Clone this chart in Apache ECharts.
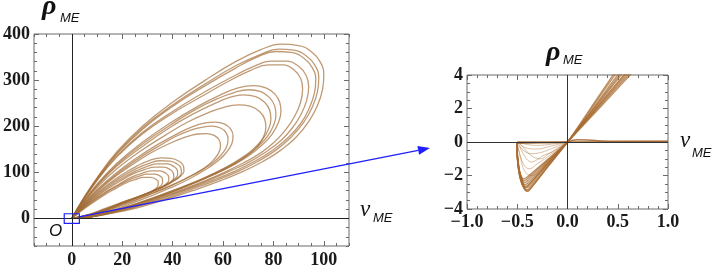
<!DOCTYPE html>
<html><head><meta charset="utf-8">
<script src="https://cdn.jsdelivr.net/npm/echarts@6/dist/echarts.min.js"></script>
<style>html,body{margin:0;padding:0;background:#fff}#c{width:715px;height:273px}</style>
</head><body><div id="c"></div>
<script>
// ---------- tick values ----------
const leftXTicks = [0, 20, 40, 60, 80, 100];
const leftXMinor = [-15,-10,-5,5,10,15,25,30,35,45,50,55,65,70,75,85,90,95,105,110];
const leftYTicks = [0, 100, 200, 300, 400];
const leftYMinor = [-60,-40,-20,20,40,60,80,120,140,160,180,220,240,260,280,320,340,360,380];
const rightXTicks = [-1, -0.5, 0, 0.5, 1];
const rightXMinor = [-0.9,-0.8,-0.7,-0.6,-0.4,-0.3,-0.2,-0.1,0.1,0.2,0.3,0.4,0.6,0.7,0.8,0.9];
const rightYTicks = [-4, -2, 0, 2, 4];
const rightYMinor = [-3.5,-3,-2.5,-1.5,-1,-0.5,0.5,1,1.5,2.5,3,3.5];

// ---------- left panel: large loops ----------
const L1 = [[0,0],[4,38],[10,88],[18,145],[28,200],[40,252],[53,300],[65,340],[75,366],[83,378],[90,375],[95,362],[98.5,340],[100,312],[99.5,280],[97.5,245],[94,210],[89,176],[83,148],[76,124],[68,102],[59,82],[49,62],[38,42],[26,23],[14,9],[6,2],[0,0]];
const L2 = [[0,0],[4,37],[10,86],[18,142],[28,196],[40,246],[53,292],[65,331],[75,356],[82,367],[88,365],[93,353],[96.5,332],[98,305],[97.5,275],[95.5,242],[92,208],[87,176],[81,148],[74,124],[66,102],[57,82],[47,62],[37,43],[25,24],[14,9],[6,2],[0,0]];
const L3 = [[0,0],[4,36],[10,85],[18,140],[28,193],[40,243],[53,288],[65,326],[74,351],[81,362],[87,360],[92,348],[95.3,328],[96.8,302],[96.3,272],[94.3,240],[91,207],[86,176],[80,149],[73,125],[65,103],[56,83],[46,63],[36,44],[25,25],[14,10],[6,2],[0,0]];
const L4 = [[0,0],[4,35],[10,83],[18,136],[28,186],[40,232],[52,272],[63,305],[72,329],[79,341],[85,341],[90,330],[93,310],[94,285],[93.2,256],[91,226],[87.5,196],[83,169],[77,144],[70,121],[62,101],[54,82],[45,63],[35,44],[24,25],[13,10],[6,2],[0,0]];
const L5 = [[0,0],[4,35],[10,82],[18,134],[28,183],[40,228],[52,266],[62,297],[71,321],[78,333],[84,333],[88,323],[90.8,304],[91.6,280],[90.8,252],[88.5,222],[85,193],[80.5,166],[75,142],[68,120],[61,101],[53,82],[44,63],[34,44],[24,26],[13,10],[6,2],[0,0]];
const L6 = [[0,0],[4,32],[10,74],[18,120],[28,165],[39,207],[50,243],[59,268],[66,283],[72,288],[77,283],[80.5,270],[82.5,252],[83,232],[82,208],[79.5,183],[75.5,159],[70.5,137],[64.5,117],[57.5,98],[50,80],[42,62],[33,44],[23,26],[13,10],[6,2],[0,0]];
const L7 = [[0,0],[4,31],[10,72],[18,117],[28,161],[39,202],[49,236],[58,260],[65,274],[70,279],[75,275],[78.5,262],[80.5,244],[81,224],[80,201],[77.5,177],[73.5,154],[68.5,133],[62.5,114],[56,96],[49,79],[41,62],[32,44],[23,27],[13,11],[6,2],[0,0]];
const L8 = [[0,0],[4,30],[10,70],[18,114],[28,156],[38,194],[48,226],[57,250],[63,263],[68,268],[73,264],[76.5,252],[78.5,235],[79,215],[78,193],[75.5,170],[71.5,148],[66.5,128],[61,110],[54.5,93],[48,77],[40,60],[32,44],[23,27],[13,11],[6,2],[0,0]];
const L9 = [[0,0],[4,29],[10,67],[18,108],[27,145],[37,180],[46,209],[54,229],[61,242],[66,246],[71,243],[74.5,232],[76.5,216],[77,197],[76,176],[73.5,155],[69.5,136],[65,119],[59.5,103],[53.5,88],[47,73],[40,58],[32,42],[23,26],[13,11],[6,2],[0,0]];
const L10 = [[0,0],[4,27],[10,62],[18,100],[26,132],[34,160],[42,184],[48,199],[53,207],[57,209],[60.5,205],[63,194],[64,179],[63.5,162],[61.5,144],[58.5,127],[54.5,111],[50,96],[45,81],[39,66],[32,50],[24,33],[15,16],[7,4],[0,0]];
const L11 = [[0,0],[4,26],[10,60],[18,97],[26,128],[34,155],[41,177],[47,191],[52,198],[55.5,200],[59,196],[61.2,186],[62,172],[61.5,156],[59.5,139],[56.5,123],[52.5,108],[48,94],[43,80],[37,65],[30,50],[23,34],[14,17],[7,5],[0,0]];
const L12 = [[0,0],[4,25],[10,57],[17,90],[25,120],[32,144],[39,163],[45,176],[50,183],[53.5,184],[56.5,180],[58.5,170],[59,157],[58.3,142],[56.3,127],[53.3,112],[49.5,99],[45,86],[40,73],[34,59],[28,46],[21,32],[13,16],[6,5],[0,0]];
// ---------- left panel: small loops ----------
const S1 = [[0,0],[3,18],[8,45],[14,72],[20,95],[26,114],[31,126],[35.5,131],[39.5,130],[42.5,124],[44.3,114],[44.5,103],[43.2,92],[40.8,82],[37.5,72],[33.5,62],[29,52],[23,39],[16,24],[8,9],[0,0]];
const S2 = [[0,0],[3,17],[8,43],[14,69],[20,91],[26,109],[31,120],[35,125],[39,124],[41.8,118],[43.3,109],[43.5,99],[42.3,89],[40,80],[36.8,70],[33,61],[28.5,51],[22.5,38],[15.5,23],[8,8],[0,0]];
const S3 = [[0,0],[3,17],[8,41],[14,66],[20,87],[25.5,103],[30,113],[34,118],[38,118],[40.6,112],[41.9,104],[42,95],[40.9,86],[38.6,77],[35.6,68],[32,59],[27.5,49],[22,37],[15,22],[8,8],[0,0]];
const S4 = [[0,0],[3,16],[8,39],[14,63],[19.5,82],[24.5,97],[29,106],[33,111],[36.5,111],[39,106],[40.3,98],[40.5,89],[39.5,80],[37.3,72],[34.5,64],[31,56],[27,47],[21.5,36],[15,22],[7.5,8],[0,0]];
const S5 = [[0,0],[3,15],[8,37],[14,59],[19,75],[23.5,89],[28,98],[32,103],[35,103],[37.3,98],[38.4,91],[38.5,83],[37.5,75],[35.5,67],[32.8,60],[29.5,53],[25.5,45],[20.5,35],[14.5,22],[7,8],[0,0]];
const S6 = [[0,0],[3,14],[8,35],[13,54],[18,70],[22.5,83],[26.5,91],[30,96],[33,96],[35,92],[36,85],[36,77],[35,69],[33,62],[30.5,55],[27.5,49],[24,42],[19.5,33],[14,21],[7,8],[0,0]];
const S7 = [[0,0],[3,13],[8,33],[13,51],[17.5,65],[21.5,77],[25,84],[28.5,89],[31.3,89],[33.3,85],[34.3,79],[34.2,71],[33.2,64],[31.3,58],[29,52],[26,46],[22.5,40],[18.5,32],[13,21],[6.5,8],[0,0]];

// ---------- right panel (zoom near origin) ----------
const R1 = [[-0.5,0],[-0.5,-0.7],[-0.49,-1.5],[-0.47,-2.2],[-0.44,-2.7],[-0.405,-2.95],[-0.38,-2.88],[-0.19,-1.44],[0,0],[0.3,2.25],[0.6,4.5]];
const R2 = [[-0.5,0],[-0.5,-0.7],[-0.49,-1.5],[-0.47,-2.15],[-0.44,-2.62],[-0.41,-2.85],[-0.385,-2.78],[-0.19,-1.38],[0,0],[0.3,2.15],[0.63,4.5]];
const R3 = [[-0.5,-0.02],[-0.5,-0.7],[-0.49,-1.45],[-0.47,-2.1],[-0.445,-2.55],[-0.415,-2.75],[-0.39,-2.68],[-0.2,-1.36],[0,0],[0.3,2.05],[0.66,4.5]];
const R4 = [[-0.5,0],[-0.5,-0.65],[-0.49,-1.4],[-0.47,-2.0],[-0.445,-2.45],[-0.42,-2.65],[-0.395,-2.58],[-0.2,-1.3],[0,0],[0.3,1.98],[0.68,4.5]];
const R5 = [[-0.5,-0.03],[-0.5,-0.6],[-0.49,-1.3],[-0.475,-1.9],[-0.45,-2.35],[-0.425,-2.55],[-0.4,-2.48],[-0.2,-1.24],[0,0],[0.3,1.9],[0.7,4.5]];
const R6 = [[-0.5,0],[-0.5,-0.6],[-0.49,-1.3],[-0.475,-1.85],[-0.45,-2.25],[-0.43,-2.42],[-0.405,-2.36],[-0.2,-1.16],[0,0],[0.3,2.4],[0.56,4.5]];
const R7 = [[-0.5,-0.01],[-0.5,-0.55],[-0.49,-1.2],[-0.475,-1.75],[-0.455,-2.15],[-0.435,-2.3],[-0.41,-2.25],[-0.2,-1.1],[0,0],[0.3,2.55],[0.53,4.5]];
const R8 = [[-0.5,0],[-0.5,-0.75],[-0.49,-1.55],[-0.465,-2.3],[-0.43,-2.78],[-0.4,-2.92],[-0.375,-2.82],[-0.19,-1.43],[0,0],[0.3,2.65],[0.51,4.5]];
const R9 = [[-0.5,-0.02],[-0.5,-0.65],[-0.49,-1.4],[-0.47,-2.05],[-0.445,-2.5],[-0.42,-2.7],[-0.395,-2.62],[-0.2,-1.32],[0,0],[0.3,2.3],[0.58,4.5]];
const R10 = [[-0.5,0],[-0.5,-0.55],[-0.49,-1.15],[-0.48,-1.7],[-0.46,-2.05],[-0.44,-2.2],[-0.415,-2.15],[-0.2,-1.05],[0,0],[0.3,2.1],[0.64,4.5]];
const F1 = [[-0.5,0],[-0.45,-0.25],[-0.38,-0.4],[-0.3,-0.42],[-0.2,-0.3],[-0.1,-0.15],[0,0]];
const F2 = [[-0.5,-0.05],[-0.44,-0.5],[-0.36,-0.7],[-0.28,-0.65],[-0.18,-0.45],[0,0]];
const F3 = [[-0.48,-0.2],[-0.42,-0.9],[-0.36,-1.2],[-0.3,-1.05],[-0.24,-0.8],[-0.15,-0.6],[0,0]];
const F4 = [[-0.49,-0.3],[-0.44,-1.3],[-0.38,-1.6],[-0.3,-1.3],[-0.2,-0.9],[0,0]];
const F5 = [[-0.47,-0.1],[-0.4,-0.6],[-0.32,-0.95],[-0.26,-1.0],[-0.2,-0.75],[0,0]];
const F6 = [[-0.5,-0.1],[-0.47,-0.9],[-0.42,-1.8],[-0.35,-2.0],[-0.27,-1.7],[0,0]];
const F7 = [[-0.5,-0.02],[-0.4,-0.15],[-0.3,-0.2],[-0.15,-0.12],[0,0]];
const H1 = [[-0.5,0],[0,0],[1,0.03]];
const H2 = [[-0.5,-0.07],[-0.25,-0.05],[0,0],[0.05,0.1],[0.1,0.14],[0.2,0.12],[0.3,0.08],[0.5,0.05],[1,0.05]];

const leftLoops = [L1,L2,L3,L4,L5,L6,L7,L8,L9,L10,L11,L12,S1,S2,S3,S4,S5,S6,S7];
const rightMain = [R1,R2,R3,R4,R5,R6,R7,R8,R9,R10];
const rightFaint = [F1,F2,F3,F4,F5,F6,F7];
const rightFlat = [H1,H2];

// ---------- chart ----------
const chart = echarts.init(document.getElementById('c'), null, {renderer:'canvas'});
const LABEL_FONT = {fontFamily:'"Liberation Serif", serif', fontWeight:'bold', fontSize:18, color:'#1a1a1a'};
const FRAME = '#6a6a6a';

function axis(grid, pos, min, max, vals, len, labelOpts) {
  return {
    type:'value', gridIndex:grid, position:pos, min:min, max:max,
    axisLine:{show:false, onZero:false}, splitLine:{show:false},
    axisTick:{show:true, inside:true, length:len, customValues:vals, lineStyle:{color:FRAME, width:1}},
    axisLabel: labelOpts ? Object.assign({show:true, customValues:vals}, LABEL_FONT, labelOpts) : {show:false}
  };
}
const fmtRX = v => (v < 0 ? '\u2212' : '') + Math.abs(v).toFixed(1);
const fmtRY = v => (v < 0 ? '\u2212' + Math.abs(v) : String(v));

const xAxes = [
  axis(0,'bottom',-15,110,leftXTicks,5,{margin:5}),
  axis(0,'top',-15,110,leftXTicks,5,null),
  axis(0,'bottom',-15,110,leftXMinor,3,null),
  axis(0,'top',-15,110,leftXMinor,3,null),
  axis(1,'bottom',-1,1,rightXTicks,5,{margin:4, formatter:fmtRX}),
  axis(1,'top',-1,1,rightXTicks,5,null),
  axis(1,'bottom',-1,1,rightXMinor,3,null),
  axis(1,'top',-1,1,rightXMinor,3,null)
];
const yAxes = [
  axis(0,'left',-60,400,leftYTicks,5,{margin:4}),
  axis(0,'right',-60,400,leftYTicks,5,null),
  axis(0,'left',-60,400,leftYMinor,3,null),
  axis(0,'right',-60,400,leftYMinor,3,null),
  axis(1,'left',-4,4,rightYTicks,5,{margin:4, formatter:fmtRY}),
  axis(1,'right',-4,4,rightYTicks,5,null),
  axis(1,'left',-4,4,rightYMinor,3,null),
  axis(1,'right',-4,4,rightYMinor,3,null)
];

const zeroLines = (color) => ({
  silent:true, symbol:'none', animation:false,
  label:{show:false}, emphasis:{disabled:true},
  lineStyle:{color:color, width:1, type:'solid'},
  data:[{xAxis:0},{yAxis:0}]
});

const series = [];
series.push({type:'line', xAxisIndex:0, yAxisIndex:0, data:[], markLine:zeroLines('#222'), z:1});
leftLoops.forEach(d => series.push({
  type:'line', xAxisIndex:0, yAxisIndex:0, data:d, smooth:0.45, showSymbol:false, symbol:'none',
  lineStyle:{color:'rgba(160,106,52,0.68)', width:1.3}, silent:true, z:2
}));
series.push({type:'line', xAxisIndex:4, yAxisIndex:4, data:[], markLine:zeroLines('#333'), z:1});
rightFaint.forEach(d => series.push({
  type:'line', xAxisIndex:4, yAxisIndex:4, data:d, smooth:0.4, symbol:'none',
  lineStyle:{color:'rgba(175,115,55,0.45)', width:1}, silent:true, z:2
}));
rightMain.forEach(d => series.push({
  type:'line', xAxisIndex:4, yAxisIndex:4, data:d, smooth:0.2, symbol:'none',
  lineStyle:{color:'rgba(168,108,50,0.75)', width:1.3}, silent:true, z:3
}));
rightFlat.forEach(d => series.push({
  type:'line', xAxisIndex:4, yAxisIndex:4, data:d, smooth:0.3, symbol:'none',
  lineStyle:{color:'rgba(160,100,45,0.85)', width:1.5}, silent:true, z:3
}));

chart.setOption({
  animation:false,
  backgroundColor:'#fff',
  grid:[
    {left:33, top:34, width:316, height:212, show:true, borderColor:FRAME, borderWidth:1, backgroundColor:'transparent'},
    {left:467, top:75, width:201, height:134, show:true, borderColor:FRAME, borderWidth:1, backgroundColor:'transparent'}
  ],
  xAxis:xAxes, yAxis:yAxes, series:series
});

// ---------- annotations ----------
const a = chart.convertToPixel({gridIndex:0}, [-3, 10]);
const b = chart.convertToPixel({gridIndex:0}, [3, -11]);
const s = chart.convertToPixel({gridIndex:0}, [3, 3]);
const r0 = chart.convertToPixel({gridIndex:1}, [-1, 0]);
const tip = [r0[0] - 37, r0[1] + 6];
const ang = Math.atan2(tip[1] - s[1], tip[0] - s[0]);
const hl = 12, hw = 4.5;
const base = [tip[0] - hl*Math.cos(ang), tip[1] - hl*Math.sin(ang)];
const head = [tip,
  [base[0] + hw*Math.sin(ang), base[1] - hw*Math.cos(ang)],
  [base[0] - hw*Math.sin(ang), base[1] + hw*Math.cos(ang)]];
const BLUE = '#1f1fff';
const serifIt = '"Liberation Serif", serif';
const sansIt = '"Liberation Sans", sans-serif';
function txt(t, x, y, font, size, weight, style) {
  return {type:'text', x:x, y:y, z:100, silent:true,
    style:{text:t, fill:'#111', font: style + ' ' + weight + ' ' + size + 'px ' + font,
      align:'left', verticalAlign:'middle', textAlign:'left', textVerticalAlign:'middle'}};
}
chart.setOption({
  graphic:[
    {type:'rect', z:100, silent:true, shape:{x:a[0], y:a[1], width:b[0]-a[0], height:b[1]-a[1]},
      style:{fill:'none', stroke:BLUE, lineWidth:1.2}},
    {type:'line', z:100, silent:true, shape:{x1:s[0], y1:s[1], x2:base[0], y2:base[1]},
      style:{stroke:BLUE, lineWidth:1.3}},
    {type:'polygon', z:100, silent:true, shape:{points:head}, style:{fill:BLUE}},
    txt('\u03C1', 42, 6.5, serifIt, 28, 'bold', 'italic'),
    txt('ME', 60, 18.5, sansIt, 13, 'normal', 'italic'),
    txt('v', 360, 210, serifIt, 23, 'normal', 'italic'),
    txt('ME', 373, 218, sansIt, 13, 'normal', 'italic'),
    txt('\u03C1', 546, 53, serifIt, 28, 'bold', 'italic'),
    txt('ME', 563, 60.5, sansIt, 13, 'normal', 'italic'),
    txt('v', 680, 141, serifIt, 23, 'normal', 'italic'),
    txt('ME', 692, 153, sansIt, 13, 'normal', 'italic'),
    txt('O', 49, 231, sansIt, 17, 'normal', 'italic')
  ]
});
</script>
</body></html>
